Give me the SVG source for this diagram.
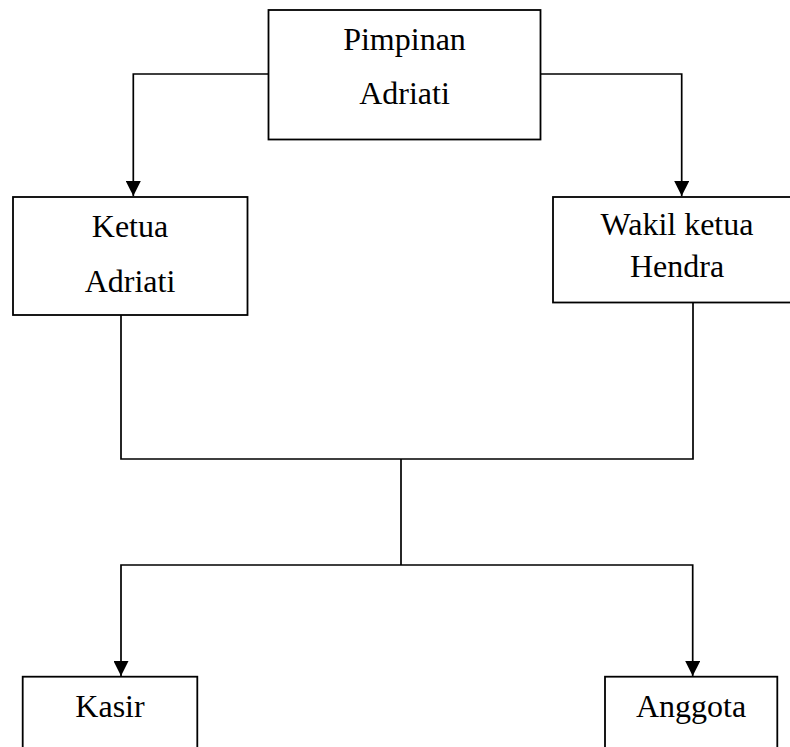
<svg xmlns="http://www.w3.org/2000/svg" width="790" height="747" viewBox="0 0 790 747">
  <defs>
    <style>
      .box { fill: #ffffff; stroke: #000000; stroke-width: 1.8; }
      .lbl { font-family: "Liberation Serif", "Times New Roman", serif; font-size: 32px; fill: #000000; text-anchor: middle; }
      .wire { fill: none; stroke: #000000; stroke-width: 1.7; }
    </style>
    <marker id="arrow" markerWidth="15" markerHeight="15" refX="15" refY="7.5" orient="auto" markerUnits="userSpaceOnUse">
      <path d="M0,0 L15,7.5 L0,15 Z" fill="#000000"/>
    </marker>
  </defs>
  <rect x="0" y="0" width="790" height="747" fill="#ffffff"/>

  <g id="connectors">
    <path class="wire" d="M268.5,74 H133.3 V196" marker-end="url(#arrow)"/>
    <path class="wire" d="M540.5,74 H681.7 V196" marker-end="url(#arrow)"/>
    <path class="wire" d="M121,315 V459 H693 V302"/>
    <path class="wire" d="M401,459 V565"/>
    <path class="wire" d="M401,565 H121 V676" marker-end="url(#arrow)"/>
    <path class="wire" d="M401,565 H692.7 V676" marker-end="url(#arrow)"/>
  </g>

  <g id="node-pimpinan">
    <rect class="box" x="268.5" y="10" width="272" height="129.5"/>
    <text class="lbl" x="404.5" y="50">Pimpinan</text>
    <text class="lbl" x="404.5" y="104">Adriati</text>
  </g>

  <g id="node-ketua">
    <rect class="box" x="13" y="197" width="234.5" height="118"/>
    <text class="lbl" x="130" y="237">Ketua</text>
    <text class="lbl" x="130" y="292">Adriati</text>
  </g>

  <g id="node-wakil">
    <rect class="box" x="553" y="197" width="248" height="105.5"/>
    <text class="lbl" x="677" y="235">Wakil ketua</text>
    <text class="lbl" x="677" y="277">Hendra</text>
  </g>

  <g id="node-kasir">
    <rect class="box" x="22.7" y="676.7" width="174.6" height="100"/>
    <text class="lbl" x="110" y="717">Kasir</text>
  </g>

  <g id="node-anggota">
    <rect class="box" x="605" y="676.7" width="172.3" height="100"/>
    <text class="lbl" x="691" y="717">Anggota</text>
  </g>
</svg>
